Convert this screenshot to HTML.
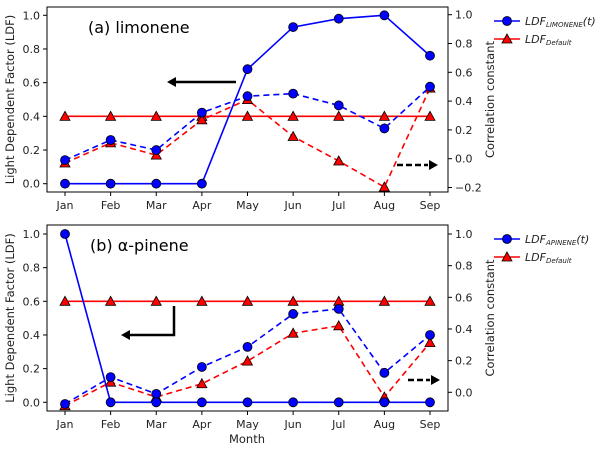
<!DOCTYPE html>
<html><head><meta charset="utf-8"><style>
body{margin:0;background:#fff;font-family:"Liberation Sans","DejaVu Sans",sans-serif}
svg text{font-family:"DejaVu Sans","Liberation Sans",sans-serif}
</style></head><body>
<svg id="c" width="600" height="449" viewBox="0 0 600 449" xmlns="http://www.w3.org/2000/svg"></svg>
<script>
const months=["Jan","Feb","Mar","Apr","May","Jun","Jul","Aug","Sep"];
const limLdf=[0,0,0,0,0.68,0.93,0.98,1.0,0.76];
const limDefault=[0.4,0.4,0.4,0.4,0.4,0.4,0.4,0.4,0.4];
const limCorrLdf=[-0.01,0.13,0.06,0.32,0.434,0.452,0.37,0.21,0.50];
const limCorrDefault=[-0.03,0.11,0.025,0.27,0.41,0.154,-0.016,-0.197,0.49];
const apiLdf=[1,0,0,0,0,0,0,0,0];
const apiDefault=[0.6,0.6,0.6,0.6,0.6,0.6,0.6,0.6,0.6];
const apiCorrLdf=[-0.074,0.096,-0.01,0.16,0.287,0.495,0.527,0.123,0.362];
const apiCorrDefault=[-0.085,0.064,-0.03,0.054,0.197,0.373,0.42,-0.03,0.314];
const leftTicks=[0,0.2,0.4,0.6,0.8,1.0];
const rightTicksA=[-0.2,0,0.2,0.4,0.6,0.8,1.0];
const rightTicksB=[0,0.2,0.4,0.6,0.8,1.0];
const NS="http://www.w3.org/2000/svg";
const svg=document.getElementById('c');
function el(t,a,p){const e=document.createElementNS(NS,t);for(const k in a)e.setAttribute(k,a[k]);(p||svg).appendChild(e);return e;}
function fmt(v){const s=Math.abs(v).toFixed(1);return v<-1e-9?"\u2212"+s:s;}
function panel(o){
 const g=el('g',{});
 
 
 const x=i=>65+i*(430-65)/8;
 const yL=v=>o.l0-(o.l0-o.l1)*v;
 const yR=v=>o.r0-(o.r0-o.r1)*v;
 // box
 const box=el('rect',{x:47,y:o.top,width:401,height:o.bot-o.top,fill:'none',stroke:'#000','stroke-width':1},g);
 
 leftTicks.forEach(v=>{const y=yL(v);el('line',{x1:43,x2:47,y1:y,y2:y,stroke:'#000'},g);
  const t=el('text',{x:40,y:y+4,'text-anchor':'end','font-size':11,fill:'#222'},g);t.textContent=v.toFixed(1);
  });
 o.rticks.forEach(v=>{const y=yR(v);el('line',{x1:448,x2:452,y1:y,y2:y,stroke:'#000'},g);
  const t=el('text',{x:455,y:y+4,'font-size':11,fill:'#222'},g);t.textContent=fmt(v);
  });
 months.forEach((m,i)=>{el('line',{x1:x(i),x2:x(i),y1:o.bot,y2:o.bot+4,stroke:'#000'},g);
  const t=el('text',{x:x(i),y:o.bot+17,'text-anchor':'middle','font-size':11,fill:'#222'},g);t.textContent=m;
  });
 const yl=el('text',{transform:`translate(14,${(o.top+o.bot)/2}) rotate(-90)`,'text-anchor':'middle','font-size':11.5,fill:'#222'},g);
 yl.textContent='Light Dependent Factor (LDF)';
 const yr=el('text',{transform:`translate(494,${(o.top+o.bot)/2}) rotate(-90)`,'text-anchor':'middle','font-size':11.5,fill:'#222'},g);
 yr.textContent='Correlation constant';
 const ti=el('text',{x:o.tx,y:o.top+26,'font-size':16,fill:'#000'},g);ti.textContent=o.title;
 
 function series(vals,ys,color,dash,marker,name){
  const pts=vals.map((v,i)=>[x(i),ys(v)]);
  const pl=el('polyline',{points:pts.map(p=>p.join(',')).join(' '),fill:'none',stroke:color,'stroke-width':1.6,'stroke-dasharray':dash||'none'},g);
  
  pts.forEach(p=>{let m;
   if(marker==='o'){m=el('circle',{cx:p[0],cy:p[1],r:4.5,fill:'#0000ff',stroke:'#000','stroke-width':0.8},g);}
   else{m=el('polygon',{points:`${p[0]},${p[1]-5} ${p[0]-5},${p[1]+4} ${p[0]+5},${p[1]+4}`,fill:'#ff0000',stroke:'#000','stroke-width':0.8},g);}
   });
 }
 series(o.def,yL,'#ff0000',null,'t','ldf-default');
 series(o.corrD,yR,'#ff0000','6,4','t','corr-default');
 series(o.corrL,yR,'#0000ff','6,4','o','corr-ldf');
 series(o.ldf,yL,'#0000ff',null,'o','ldf-t');
 // arrows
 o.arrows(g);
 // legend
 const lg=el('g',{},g);
 const ly=o.top+14;
 el('line',{x1:494,x2:520,y1:ly,y2:ly,stroke:'#0000ff','stroke-width':1.6},lg);
 el('circle',{cx:507,cy:ly,r:4.5,fill:'#0000ff',stroke:'#000','stroke-width':0.8},lg);
 const t1=el('text',{x:525,y:ly+4,'font-size':11,'font-style':'italic',fill:'#222'},lg);
 t1.innerHTML=`LDF<tspan font-size="7" dy="2">${o.sub}</tspan><tspan dy="-2">(t)</tspan>`;
 
 el('line',{x1:494,x2:520,y1:ly+18,y2:ly+18,stroke:'#ff0000','stroke-width':1.6},lg);
 el('polygon',{points:`507,${ly+13} 502,${ly+22} 512,${ly+22}`,fill:'#ff0000',stroke:'#000','stroke-width':0.8},lg);
 const t2=el('text',{x:525,y:ly+22,'font-size':11,'font-style':'italic',fill:'#222'},lg);
 t2.innerHTML=`LDF<tspan font-size="7" dy="2">Default</tspan>`;
 
}
function arrowHead(g,x,y,dir){const d=dir;el('polygon',{points:`${x},${y} ${x-9*d},${y-5} ${x-9*d},${y+5}`,fill:'#000'},g);}
panel({name:'panel-limonene',top:7,bot:192,l0:183.7,l1:15.3,r0:158.7,r1:14.7,rticks:rightTicksA,
 ldf:limLdf,def:limDefault,corrL:limCorrLdf,corrD:limCorrDefault,title:'(a) limonene',tx:88,sub:'LIMONENE',
 arrows:g=>{const a=el('line',{x1:236,x2:176,y1:82,y2:82,stroke:'#000','stroke-width':2.5},g);
  arrowHead(g,167,82,-1);
  const b=el('line',{x1:397,x2:428,y1:165,y2:165,stroke:'#000','stroke-width':2.5,'stroke-dasharray':'6,3'},g);
  arrowHead(g,438,165,1);}});
panel({name:'panel-alpha-pinene',top:225,bot:411,l0:402.3,l1:234,r0:392.3,r1:234,rticks:rightTicksB,
 ldf:apiLdf,def:apiDefault,corrL:apiCorrLdf,corrD:apiCorrDefault,title:'(b) \u03b1-pinene',tx:90,sub:'APINENE',
 arrows:g=>{const a=el('polyline',{points:'174,306 174,335 130,335',fill:'none',stroke:'#000','stroke-width':2.5},g);
  arrowHead(g,121,335,-1);
  const b=el('line',{x1:408,x2:430,y1:380,y2:380,stroke:'#000','stroke-width':2.5,'stroke-dasharray':'6,3'},g);
  arrowHead(g,440,380,1);}});
const xt=el('text',{x:247,y:443,'text-anchor':'middle','font-size':11.5,fill:'#222'});xt.textContent='Month';


</script>
</body></html>
